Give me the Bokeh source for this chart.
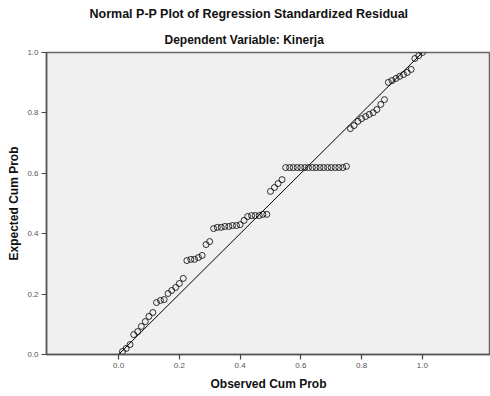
from bokeh.plotting import figure
from bokeh.models import Range1d, FixedTicker, NumeralTickFormatter, Title, Slope
from bokeh.embed import file_html
from bokeh.resources import INLINE

title_main = "Normal P-P Plot of Regression Standardized Residual"
title_sub = "Dependent Variable: Kinerja"
x_title = "Observed Cum Prob"
y_title = "Expected Cum Prob"
tick_values = [0.0, 0.2, 0.4, 0.6, 0.8, 1.0]

observed = [0.013, 0.025, 0.038, 0.050, 0.063, 0.075, 0.088, 0.100, 0.113, 0.125,
            0.138, 0.150, 0.163, 0.175, 0.188, 0.200, 0.213, 0.225, 0.238, 0.250,
            0.263, 0.275, 0.288, 0.300, 0.313, 0.325, 0.338, 0.350, 0.363, 0.375,
            0.388, 0.400, 0.413, 0.425, 0.438, 0.450, 0.463, 0.475, 0.488, 0.500,
            0.513, 0.525, 0.538, 0.550, 0.563, 0.575, 0.588, 0.600, 0.613, 0.625,
            0.638, 0.650, 0.663, 0.675, 0.688, 0.700, 0.713, 0.725, 0.738, 0.750,
            0.763, 0.775, 0.788, 0.800, 0.813, 0.825, 0.838, 0.850, 0.863, 0.875,
            0.888, 0.900, 0.913, 0.925, 0.938, 0.950, 0.963, 0.975, 0.988, 1.000]
expected = [0.010, 0.020, 0.033, 0.066, 0.076, 0.093, 0.109, 0.126, 0.139, 0.172,
            0.179, 0.182, 0.202, 0.212, 0.222, 0.235, 0.252, 0.311, 0.315, 0.315,
            0.321, 0.328, 0.364, 0.374, 0.417, 0.421, 0.421, 0.424, 0.424, 0.427,
            0.427, 0.430, 0.444, 0.457, 0.460, 0.460, 0.460, 0.464, 0.464, 0.540,
            0.553, 0.566, 0.579, 0.619, 0.619, 0.619, 0.619, 0.619, 0.619, 0.619,
            0.619, 0.619, 0.619, 0.619, 0.619, 0.619, 0.619, 0.619, 0.619, 0.623,
            0.748, 0.758, 0.772, 0.781, 0.788, 0.795, 0.801, 0.811, 0.828, 0.844,
            0.901, 0.907, 0.914, 0.921, 0.927, 0.934, 0.944, 0.980, 0.990, 1.000]

FONT = "Liberation Sans"

p = figure(width=490, height=396, output_backend="svg", toolbar_location=None,
           title=None,
           x_range=Range1d(-0.237, 1.224), y_range=Range1d(0.0, 1.0),
           min_border_left=46, min_border_right=0, min_border_top=52, min_border_bottom=42)

p.border_fill_color = "white"
p.background_fill_color = "#F0F0F0"
p.outline_line_color = "#666666"
p.outline_line_width = 1.5
p.grid.visible = False

p.add_layout(Slope(gradient=1, y_intercept=0, line_color="black", line_width=1))

p.scatter(observed, expected, marker="circle", size=6, fill_color=None,
          line_color="black", line_width=0.8)

for ax in (p.xaxis[0], p.yaxis[0]):
    ax.ticker = FixedTicker(ticks=tick_values)
    ax.formatter = NumeralTickFormatter(format="0.0")
    ax.minor_tick_line_color = None
    ax.major_tick_out = 5
    ax.major_tick_in = 0
    ax.axis_line_color = "#555555"
    ax.axis_line_width = 1.5
    ax.major_tick_line_color = "#444444"
    ax.major_tick_line_width = 1.2
    ax.major_label_text_font = FONT
    ax.major_label_text_font_size = "8px"
    ax.major_label_text_color = "#555555"
    ax.axis_label_text_font = FONT
    ax.axis_label_text_font_size = "12px"
    ax.axis_label_text_font_style = "bold"
    ax.axis_label_text_color = "#111111"

p.xaxis.axis_label = x_title
p.yaxis.axis_label = y_title
p.xaxis.axis_label_standoff = 6
p.yaxis.axis_label_standoff = 3
p.xaxis.major_label_standoff = 3
p.yaxis.major_label_standoff = 3

p.add_layout(Title(text=title_sub, align="left", offset=118, standoff=11,
                   text_font=FONT, text_font_size="12px", text_font_style="bold",
                   text_color="#111111"), "above")
p.add_layout(Title(text=title_main, align="left", offset=43, standoff=9,
                   text_font=FONT, text_font_size="12.5px", text_font_style="bold",
                   text_color="#111111"), "above")

open("out.html", "w").write(file_html(p, INLINE))
